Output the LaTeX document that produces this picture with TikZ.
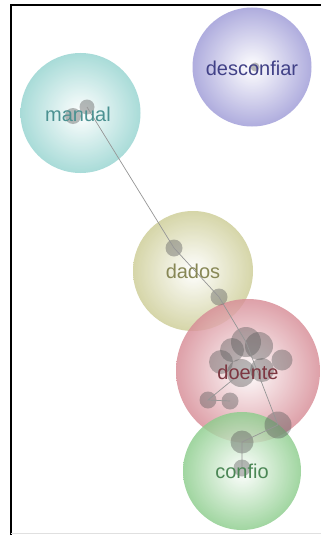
\documentclass[tikz,border=0pt]{standalone}
\usepackage{fontspec}
\setmainfont{Liberation Sans}
\definecolor{tealC}{RGB}{150,212,208}
\definecolor{tealT}{RGB}{75,145,145}
\definecolor{violC}{RGB}{158,155,215}
\definecolor{violT}{RGB}{65,65,135}
\definecolor{oliveC}{RGB}{205,205,150}
\definecolor{oliveT}{RGB}{135,135,85}
\definecolor{roseC}{RGB}{215,140,150}
\definecolor{roseT}{RGB}{125,55,65}
\definecolor{greenC}{RGB}{140,205,140}
\definecolor{greenT}{RGB}{75,135,85}
\definecolor{dotC}{RGB}{90,90,90}
\definecolor{linkC}{RGB}{150,150,150}
\tikzset{
  bubble/.style={inner color=white, outer color=#1, opacity=0.82},
  word/.style={text=#1, font=\fontsize{20}{22}\selectfont, inner sep=0pt},
  dot/.style={circle, fill=dotC, fill opacity=0.42, draw=none, inner sep=0pt, minimum size=#1},
  link/.style={draw=linkC, line width=0.7pt}
}
\begin{document}
\begin{tikzpicture}[x=1pt,y=-1pt]
\useasboundingbox (0,0) rectangle (321,535);
\fill[white] (0,0) rectangle (321,535);

% frame
\draw[black, line width=1.6pt] (11,535) -- (11,5) -- (321,5);
\draw[black!12, line width=0.8pt] (11,533.5) -- (321,533.5);

% topic bubbles
\shade[bubble=tealC] (80.5,113) circle (60);
\shade[bubble=violC] (252,67) circle (59.5);
\shade[bubble=oliveC] (193,271) circle (60);
\shade[bubble=roseC] (248,371) circle (72);
\shade[bubble=greenC] (242,471) circle (59);

% term dots
\node[dot=16pt] (m1) at (73,116) {};
\node[dot=15pt] (m2) at (87,107) {};
\node[dot=9pt] (d0) at (255,67) {};
\node[dot=17pt] (a1) at (174,248) {};
\node[dot=17pt] (a2) at (219,297) {};
\node[dot=30pt] (c1) at (246,342) {};
\node[dot=28pt] (c2) at (259,346) {};
\node[dot=24pt] (c0) at (232,350) {};
\node[dot=24pt] (c3) at (221,362) {};
\node[dot=21pt] (c4) at (282,360) {};
\node[dot=28pt] (c5) at (241,373) {};
\node[dot=24pt] (c6) at (262,370) {};
\node[dot=17pt] (b1) at (208,400) {};
\node[dot=17pt] (b2) at (230,401) {};
\node[dot=27pt] (r1) at (278,425) {};
\node[dot=23pt] (g1) at (242,442) {};
\node[dot=17pt] (g2) at (242,468) {};

% links between terms
\draw[link] (m2.center) -- (a1.center) -- (a2.center) -- (c1.center);
\draw[link] (c1.center) -- (r1.center);
\draw[link] (c5.center) -- (b1.center) -- (b2.center);
\draw[link] (r1.center) -- (g1.center) -- (g2.center);

% labels
\node[word=tealT] (manual) at (78,114) {manual};
\node[word=violT] (desconfiar) at (252,68) {desconfiar};
\node[word=oliveT] (dados) at (193,271) {dados};
\node[word=roseT] (doente) at (248,372) {doente};
\node[word=greenT] (confio) at (242,471) {confio};
\end{tikzpicture}
\end{document}
